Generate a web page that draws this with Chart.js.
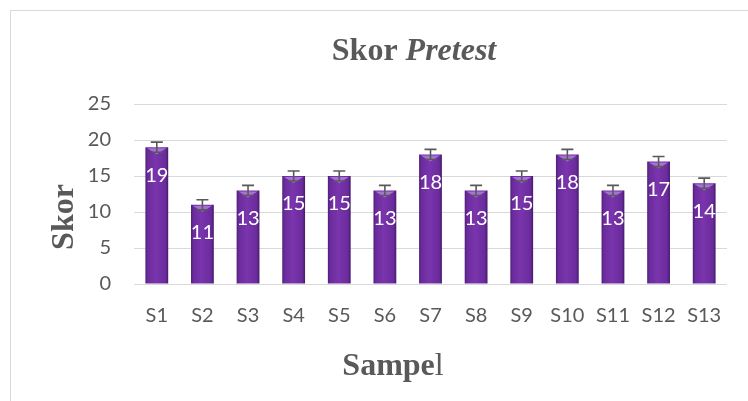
<!DOCTYPE html>
<html>
<head>
<meta charset="utf-8">
<script src="https://cdn.jsdelivr.net/npm/chart.js@4.4.0/dist/chart.umd.min.js"></script>
<style>
  html, body { margin: 0; padding: 0; background: #fff; }
  canvas { display: block; }
</style>
</head>
<body>
<canvas id="chart" width="748" height="401"></canvas>
<script>
const labels = ['S1', 'S2', 'S3', 'S4', 'S5', 'S6', 'S7', 'S8', 'S9', 'S10', 'S11', 'S12', 'S13'];
const scores = [19, 11, 13, 15, 15, 13, 18, 13, 15, 18, 13, 17, 14];
const errors = [0.7, 0.7, 0.7, 0.7, 0.7, 0.7, 0.7, 0.7, 0.7, 0.7, 0.7, 0.7, 0.7];
const yMin = 0, yMax = 25, yStep = 5;

const chartTitle = ['Skor ', 'Pretest'];
const xTitle = ['Sampe', 'l'];
const yTitle = 'Skor';

const gray = '#595959';

// purple bar with darker edges, built per bar from the x scale
function barFill(c) {
    const chart = c.chart;
    const xs = chart.scales.x;
    if (!xs || c.dataIndex === undefined) return '#7030a0';
    const x = xs.getPixelForValue(c.dataIndex);
    const w = (xs.right - xs.left) / labels.length * 0.5;
    if (!Number.isFinite(x) || !Number.isFinite(w) || w <= 0) return '#7030a0';
    const g = chart.ctx.createLinearGradient(x - w / 2, 0, x + w / 2, 0);
    g.addColorStop(0, '#4f1d78');
    g.addColorStop(0.1, '#6a2b9c');
    g.addColorStop(0.45, '#7a35ad');
    g.addColorStop(0.88, '#6a2b9c');
    g.addColorStop(1, '#461a6b');
    return g;
}

const framePlugin = {
    id: 'frame',
    beforeDraw(chart) {
        const ctx = chart.ctx;
        ctx.save();
        ctx.strokeStyle = '#d9d9d9';
        ctx.lineWidth = 1;
        ctx.strokeRect(10.5, 10.5, 900, 600);
        ctx.restore();
    }
};

const barExtras = {
    id: 'barExtras',
    afterDatasetsDraw(chart) {
        const ctx = chart.ctx;
        const ys = chart.scales.y;
        const meta = chart.getDatasetMeta(0);
        ctx.save();
        meta.data.forEach((bar, i) => {
            const x = bar.x, top = bar.y, w = bar.width;
            // light bevel at top of bar
            ctx.fillStyle = 'rgba(175,125,220,0.85)';
            ctx.beginPath();
            ctx.moveTo(x - w * 0.42, top + 1);
            ctx.lineTo(x + w * 0.42, top + 1);
            ctx.lineTo(x, top + 7);
            ctx.closePath();
            ctx.fill();

            // error bar
            const yHi = ys.getPixelForValue(scores[i] + errors[i]);
            const yLo = ys.getPixelForValue(scores[i] - errors[i]);
            ctx.strokeStyle = gray;
            ctx.lineWidth = 1.6;
            ctx.beginPath();
            ctx.moveTo(x, yHi); ctx.lineTo(x, yLo);
            ctx.moveTo(x - 6, yHi); ctx.lineTo(x + 6, yHi);
            ctx.moveTo(x - 6, yLo); ctx.lineTo(x + 6, yLo);
            ctx.stroke();

            // value label
            ctx.fillStyle = '#ffffff';
            ctx.font = '20px Lato';
            ctx.textAlign = 'center';
            ctx.textBaseline = 'middle';
            ctx.fillText(String(scores[i]), x, top + 28);
        });
        ctx.restore();
    }
};

const titlesPlugin = {
    id: 'titles',
    afterDraw(chart) {
        const ctx = chart.ctx;
        ctx.save();
        ctx.fillStyle = gray;
        ctx.textBaseline = 'alphabetic';
        ctx.textAlign = 'left';

        // main title: "Skor" bold + "Pretest" bold italic
        const f1 = 'bold 32px "Liberation Serif"';
        const f2 = 'italic bold 32px "Liberation Serif"';
        ctx.font = f1; const w1 = ctx.measureText(chartTitle[0]).width;
        ctx.font = f2; const w2 = ctx.measureText(chartTitle[1]).width;
        let x0 = 414 - (w1 + w2) / 2;
        ctx.font = f1; ctx.fillText(chartTitle[0], x0, 60);
        ctx.font = f2; ctx.fillText(chartTitle[1], x0 + w1, 60);

        // x axis title: "Sampe" bold + "l" regular
        const f3 = 'bold 32px "Liberation Serif"';
        const f4 = '32px "Liberation Serif"';
        ctx.font = f3; const w3 = ctx.measureText(xTitle[0]).width;
        ctx.font = f4; const w4 = ctx.measureText(xTitle[1]).width;
        x0 = 393 - (w3 + w4) / 2;
        ctx.font = f3; ctx.fillText(xTitle[0], x0, 375);
        ctx.font = f4; ctx.fillText(xTitle[1], x0 + w3, 375);

        // y axis title rotated
        ctx.translate(73, 217);
        ctx.rotate(-Math.PI / 2);
        ctx.font = 'bold 32px "Liberation Serif"';
        ctx.textAlign = 'center';
        ctx.fillText(yTitle, 0, 0);
        ctx.restore();
    }
};

new Chart(document.getElementById('chart'), {
    type: 'bar',
    data: {
        labels: labels,
        datasets: [{
            data: scores,
            backgroundColor: barFill,
            borderWidth: 0,
            barPercentage: 0.5,
            categoryPercentage: 1.0
        }]
    },
    options: {
        responsive: false,
        animation: false,
        layout: { padding: { top: 104, right: 21, left: 0, bottom: 0 } },
        plugins: {
            legend: { display: false },
            tooltip: { enabled: false },
            title: { display: false }
        },
        scales: {
            x: {
                grid: { display: false, drawTicks: false },
                border: { display: false },
                ticks: { color: gray, font: { family: 'Lato', size: 20 }, padding: 20 },
                afterFit(scale) { scale.height = 117; }
            },
            y: {
                min: yMin,
                max: yMax,
                grid: { color: '#d9d9d9', lineWidth: 1, drawTicks: false },
                border: { display: false },
                ticks: { stepSize: yStep, color: gray, font: { family: 'Lato', size: 20 }, padding: 23 },
                afterFit(scale) { scale.width = 134; }
            }
        }
    },
    plugins: [framePlugin, barExtras, titlesPlugin]
});
</script>
</body>
</html>
